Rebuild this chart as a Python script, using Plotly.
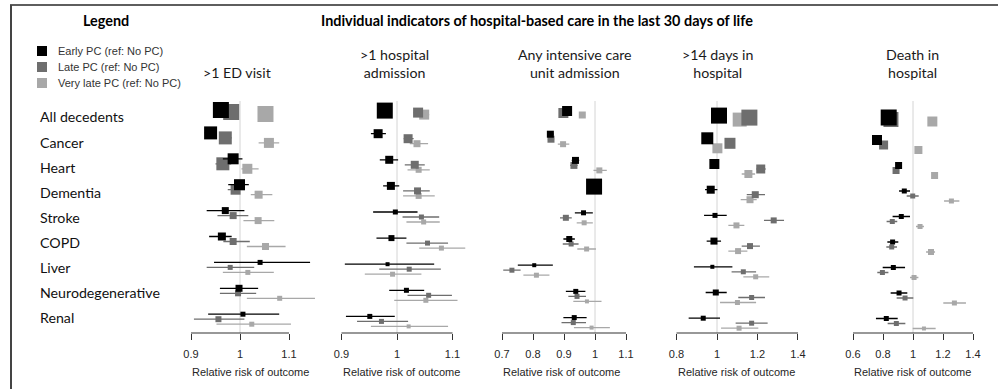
import plotly.graph_objects as go

# ---------------- data ----------------
categories = ["All decedents", "Cancer", "Heart", "Dementia", "Stroke", "COPD",
              "Liver", "Neurodegenerative", "Renal"]
series_names = ["Early PC (ref: No PC)", "Late PC (ref: No PC)", "Very late PC (ref: No PC)"]
panel_titles = [">1 ED visit", ">1 hospital<br>admission", "Any intensive care<br>unit admission",
                ">14 days in<br>hospital", "Death in<br>hospital"]
tick_values = [[0.9, 1, 1.1], [0.9, 1, 1.1], [0.7, 0.8, 0.9, 1, 1.1],
               [0.8, 1, 1.2, 1.4], [0.6, 0.8, 1, 1.2, 1.4]]
tick_labels = [["0.9", "1", "1.1"], ["0.9", "1", "1.1"], ["0.7", "0.8", "0.9", "1", "1.1"],
               ["0.8", "1", "1.2", "1.4"], ["0.6", "0.8", "1", "1.2", "1.4"]]

# >1 ED visit
ed_early_rr = [0.961, 0.940, 0.986, 0.999, 0.970, 0.963, 1.041, 0.998, 1.006]
ed_early_lo = [0.952, 0.928, 0.965, 0.976, 0.932, 0.937, 0.947, 0.959, 0.935]
ed_early_hi = [0.970, 0.953, 1.005, 1.018, 1.009, 0.983, 1.143, 1.037, 1.080]
ed_early_w = [16, 13, 11, 11, 7, 8, 5, 7, 5]
ed_late_rr = [0.982, 0.970, 0.965, 0.991, 0.986, 0.986, 0.980, 0.996, 0.956]
ed_late_lo = [0.975, 0.958, 0.950, 0.975, 0.954, 0.966, 0.932, 0.959, 0.906]
ed_late_hi = [0.990, 0.983, 0.982, 1.010, 1.017, 1.020, 1.029, 1.033, 1.009]
ed_late_w = [16, 13, 13, 10, 7, 7, 5, 6, 6]
ed_vlate_rr = [1.052, 1.059, 1.015, 1.038, 1.037, 1.052, 1.016, 1.081, 1.024]
ed_vlate_lo = [1.042, 1.038, 1.003, 1.022, 1.007, 1.014, 0.965, 1.014, 0.952]
ed_vlate_hi = [1.063, 1.080, 1.038, 1.066, 1.070, 1.093, 1.069, 1.153, 1.104]
ed_vlate_w = [16, 10, 10, 8, 7, 7, 5, 5, 5]

# >1 hospital admission
adm_early_rr = [0.978, 0.966, 0.986, 0.989, 0.997, 0.990, 0.983, 1.017, 0.951]
adm_early_lo = [0.970, 0.953, 0.969, 0.975, 0.957, 0.963, 0.906, 0.986, 0.908]
adm_early_hi = [0.987, 0.980, 1.002, 1.004, 1.037, 1.017, 1.067, 1.049, 0.996]
adm_early_w = [16, 9, 8, 8, 5, 6, 4, 5, 5]
adm_late_rr = [1.038, 1.020, 1.032, 1.037, 1.044, 1.055, 1.022, 1.057, 0.972]
adm_late_lo = [1.030, 1.012, 1.014, 1.011, 1.010, 1.017, 0.968, 1.019, 0.928]
adm_late_hi = [1.046, 1.030, 1.050, 1.059, 1.076, 1.092, 1.079, 1.099, 1.020]
adm_late_w = [10, 9, 8, 7, 5, 5, 5, 5, 5]
adm_vlate_rr = [1.049, 1.036, 1.039, 1.039, 1.048, 1.080, 0.992, 1.052, 1.021]
adm_vlate_lo = [1.040, 1.023, 1.019, 1.011, 1.017, 1.040, 0.942, 0.995, 0.953]
adm_vlate_hi = [1.058, 1.056, 1.059, 1.068, 1.077, 1.123, 1.044, 1.109, 1.092]
adm_vlate_w = [10, 7, 6, 6, 5, 5, 5, 5, 4]

# Any intensive care unit admission
icu_early_rr = [0.910, 0.856, 0.937, 0.997, 0.963, 0.917, 0.804, 0.938, 0.933]
icu_early_lo = [0.900, 0.846, 0.925, 0.990, 0.935, 0.898, 0.751, 0.906, 0.898]
icu_early_hi = [0.920, 0.866, 0.949, 1.004, 0.993, 0.935, 0.864, 0.969, 0.973]
icu_early_w = [10, 7, 7, 16, 5, 6, 4, 5, 5]
icu_late_rr = [0.898, 0.858, 0.932, None, 0.906, 0.923, 0.732, 0.942, 0.930]
icu_late_lo = [0.888, 0.848, 0.920, None, 0.887, 0.896, 0.704, 0.914, 0.892]
icu_late_hi = [0.908, 0.868, 0.944, None, 0.925, 0.947, 0.760, 0.971, 0.971]
icu_late_w = [10, 7, 7, None, 6, 5, 5, 5, 5]
icu_vlate_rr = [0.959, 0.897, 1.014, None, 0.965, 0.973, 0.811, 0.974, 0.989]
icu_vlate_lo = [0.950, 0.880, 0.995, None, 0.941, 0.943, 0.769, 0.930, 0.932]
icu_vlate_hi = [0.968, 0.917, 1.038, None, 0.993, 1.003, 0.853, 1.021, 1.048]
icu_vlate_w = [7, 6, 6, None, 5, 5, 5, 4, 4]

# >14 days in hospital
los_early_rr = [1.010, 0.952, 0.987, 0.969, 0.990, 0.985, 0.977, 0.994, 0.932]
los_early_lo = [0.995, 0.935, 0.970, 0.941, 0.936, 0.949, 0.886, 0.944, 0.860]
los_early_hi = [1.025, 0.970, 1.004, 1.002, 1.048, 1.020, 1.076, 1.048, 1.015]
los_early_w = [16, 12, 10, 8, 5, 7, 4, 6, 5]
los_late_rr = [1.160, 1.064, 1.216, 1.189, 1.280, 1.163, 1.130, 1.171, 1.171]
los_late_lo = [1.145, 1.045, 1.195, 1.147, 1.232, 1.122, 1.072, 1.105, 1.092]
los_late_hi = [1.175, 1.083, 1.240, 1.237, 1.331, 1.212, 1.193, 1.237, 1.250]
los_late_w = [16, 11, 9, 7, 6, 6, 5, 5, 5]
los_vlate_rr = [1.112, 1.002, 1.155, 1.163, 1.096, 1.104, 1.191, 1.101, 1.109]
los_vlate_lo = [1.095, 0.985, 1.122, 1.117, 1.056, 1.056, 1.130, 1.015, 1.020]
los_vlate_hi = [1.130, 1.020, 1.188, 1.196, 1.135, 1.150, 1.258, 1.193, 1.204]
los_vlate_w = [14, 10, 8, 7, 6, 6, 5, 5, 5]

# Death in hospital
dih_early_rr = [0.838, 0.760, 0.904, 0.942, 0.922, 0.864, 0.869, 0.907, 0.822]
dih_early_lo = [0.825, 0.745, 0.888, 0.907, 0.864, 0.829, 0.798, 0.851, 0.753]
dih_early_hi = [0.851, 0.775, 0.920, 0.980, 0.980, 0.902, 0.947, 0.962, 0.898]
dih_early_w = [16, 10, 7, 5, 5, 5, 5, 5, 5]
dih_late_rr = [0.853, 0.804, 0.887, 0.998, 0.862, 0.858, 0.796, 0.947, 0.889]
dih_late_lo = [0.840, 0.790, 0.872, 0.958, 0.824, 0.822, 0.762, 0.891, 0.831]
dih_late_hi = [0.866, 0.818, 0.902, 1.038, 0.895, 0.893, 0.836, 1.002, 0.949]
dih_late_w = [15, 9, 7, 5, 5, 5, 5, 5, 5]
dih_vlate_rr = [1.129, 1.036, 1.144, 1.256, 1.047, 1.120, 1.007, 1.276, 1.073]
dih_vlate_lo = [1.115, 1.022, 1.128, 1.207, 1.020, 1.087, 0.980, 1.202, 0.998]
dih_vlate_hi = [1.143, 1.050, 1.160, 1.309, 1.073, 1.147, 1.036, 1.353, 1.151]
dih_vlate_w = [10, 8, 7, 5, 5, 6, 5, 5, 4]

panels_data = [
    [(ed_early_rr, ed_early_lo, ed_early_hi, ed_early_w),
     (ed_late_rr, ed_late_lo, ed_late_hi, ed_late_w),
     (ed_vlate_rr, ed_vlate_lo, ed_vlate_hi, ed_vlate_w)],
    [(adm_early_rr, adm_early_lo, adm_early_hi, adm_early_w),
     (adm_late_rr, adm_late_lo, adm_late_hi, adm_late_w),
     (adm_vlate_rr, adm_vlate_lo, adm_vlate_hi, adm_vlate_w)],
    [(icu_early_rr, icu_early_lo, icu_early_hi, icu_early_w),
     (icu_late_rr, icu_late_lo, icu_late_hi, icu_late_w),
     (icu_vlate_rr, icu_vlate_lo, icu_vlate_hi, icu_vlate_w)],
    [(los_early_rr, los_early_lo, los_early_hi, los_early_w),
     (los_late_rr, los_late_lo, los_late_hi, los_late_w),
     (los_vlate_rr, los_vlate_lo, los_vlate_hi, los_vlate_w)],
    [(dih_early_rr, dih_early_lo, dih_early_hi, dih_early_w),
     (dih_late_rr, dih_late_lo, dih_late_hi, dih_late_w),
     (dih_vlate_rr, dih_vlate_lo, dih_vlate_hi, dih_vlate_w)],
]

# ---------------- layout / style ----------------
W, H = 998, 389
COLORS = ["#000000", "#6e6e6e", "#a8a8a8"]
HUM = "Lato, 'Open Sans', sans-serif"
ARIAL = "'Liberation Sans', Arial, sans-serif"

# x-axis: pixel of value 1, pixels per unit, shown range
AX_ONE = [240, 397, 595, 717, 913]
AX_K = [490, 555, 310, 202.5, 150]
AX_RANGE = [(0.85, 1.17), (0.85, 1.15), (0.65, 1.12), (0.75, 1.45), (0.55, 1.45)]
# y: pixel of first row center and row spacing per panel
ROW_TOP = [112, 112.6, 113, 117.6, 119.5]
ROW_SP = [25.9, 26.1, 26.2, 25.7, 25.5]
PLOT_TOP, PLOT_BOT = 100, 333
SUB_OFF = [-5, 0, 5]
SUB_OFF_ROW0 = [-2, 0, 2]
TITLE_CX = [237, 394, 575, 717, 912]


def py(p):
    return 1 - p / H


def px(p):
    return p / W


fig = go.Figure()
layout = dict(
    width=W, height=H, margin=dict(l=0, r=0, t=0, b=0),
    paper_bgcolor="white", plot_bgcolor="rgba(0,0,0,0)", showlegend=False,
)
shapes = []
annotations = []

for i in range(5):
    n = "" if i == 0 else str(i + 1)
    r0, r1 = AX_RANGE[i]
    d0 = (AX_ONE[i] + (r0 - 1) * AX_K[i]) / W
    d1 = (AX_ONE[i] + (r1 - 1) * AX_K[i]) / W
    layout["xaxis" + n] = dict(
        domain=[d0, d1], range=[r0, r1], anchor="y" + n,
        tickmode="array", tickvals=tick_values[i], ticktext=tick_labels[i],
        ticks="outside", ticklen=6, tickwidth=1, tickcolor="#333333",
        showline=False, showgrid=False, zeroline=False,
        tickfont=dict(family=ARIAL, size=11, color="#262626"),
        ticklabelstandoff=5,
    )
    top, sp = ROW_TOP[i], ROW_SP[i]
    layout["yaxis" + n] = dict(
        domain=[py(PLOT_BOT), py(PLOT_TOP)],
        range=[(PLOT_BOT - top) / sp, (PLOT_TOP - top) / sp],
        anchor="x" + n, visible=False, showgrid=False, zeroline=False,
    )
    # reference line at RR = 1
    shapes.append(dict(type="line", xref="x" + n, yref="paper", x0=1, x1=1,
                       y0=py(PLOT_BOT), y1=py(101), layer="below",
                       line=dict(color="#d4d4d4", width=1)))
    # axis line spanning tick range
    shapes.append(dict(type="line", xref="x" + n, yref="paper",
                       x0=tick_values[i][0], x1=tick_values[i][-1],
                       y0=py(PLOT_BOT), y1=py(PLOT_BOT),
                       line=dict(color="#333333", width=1.2)))
    # series: draw very late first so early is on top
    for s in [2, 1, 0]:
        rr, lo, hi, w = panels_data[i][s]
        xs, ys, ep, em, sz = [], [], [], [], []
        for r in range(len(categories)):
            if rr[r] is None:
                continue
            off = SUB_OFF_ROW0[s] if r == 0 else SUB_OFF[s]
            xs.append(rr[r])
            ys.append(r + off / sp)
            ep.append(hi[r] - rr[r])
            em.append(rr[r] - lo[r])
            sz.append(w[r])
        fig.add_trace(go.Scatter(
            x=xs, y=ys, xaxis="x" + n, yaxis="y" + n, mode="markers",
            name=series_names[s], cliponaxis=False,
            marker=dict(symbol="square", size=sz, color=COLORS[s], opacity=1,
                        line=dict(width=0)),
            error_x=dict(type="data", symmetric=False, array=ep, arrayminus=em,
                         color=COLORS[s], thickness=1.3, width=0),
            hoverinfo="x+name",
        ))
    # panel title
    annotations.append(dict(text=panel_titles[i], xref="paper", yref="paper",
                            x=px(TITLE_CX[i]), y=py(83), xanchor="center", yanchor="bottom",
                            showarrow=False, align="center",
                            font=dict(family=HUM, size=14.2, color="#1a1a1a")))
    # axis title (left aligned at axis start)
    annotations.append(dict(text="Relative risk of outcome", xref="x" + n, yref="paper",
                            x=tick_values[i][0], y=py(372), xanchor="left", yanchor="middle",
                            xshift=-1, showarrow=False,
                            font=dict(family=ARIAL, size=11, color="#262626")))

# row labels
for r, c in enumerate(categories):
    annotations.append(dict(text=c, xref="paper", yref="paper", x=px(38), y=py(117 + 25.1 * r),
                            xanchor="left", yanchor="middle", showarrow=False,
                            font=dict(family=HUM, size=14.2, color="#111111")))

# main title and legend
annotations.append(dict(text="<b>Individual indicators of hospital-based care in the last 30 days of life</b>",
                        xref="paper", yref="paper", x=px(537), y=py(21), xanchor="center",
                        yanchor="middle", showarrow=False,
                        font=dict(family=HUM, size=14.4, color="#000000")))
annotations.append(dict(text="<b>Legend</b>", xref="paper", yref="paper", x=px(106), y=py(21),
                        xanchor="center", yanchor="middle", showarrow=False,
                        font=dict(family=HUM, size=14.4, color="#000000")))
LEG_Y = [51, 67, 83]
for s in range(3):
    shapes.append(dict(type="rect", xref="paper", yref="paper",
                       x0=px(37), x1=px(47), y0=py(LEG_Y[s] + 5), y1=py(LEG_Y[s] - 5),
                       fillcolor=COLORS[s], line=dict(width=0)))
    annotations.append(dict(text=series_names[s], xref="paper", yref="paper",
                            x=px(56), y=py(LEG_Y[s]), xanchor="left", yanchor="middle",
                            showarrow=False, font=dict(family=ARIAL, size=11, color="#333333")))

# frame
shapes.append(dict(type="line", xref="paper", yref="paper", x0=px(10), x1=1,
                   y0=py(5), y1=py(5), line=dict(color="#5e5e5e", width=2)))
shapes.append(dict(type="line", xref="paper", yref="paper", x0=px(11), x1=px(11),
                   y0=py(5), y1=0, line=dict(color="#444444", width=2)))

layout["shapes"] = shapes
layout["annotations"] = annotations
fig.update_layout(**layout)
fig.write_html("out.html", config={"displayModeBar": False},
               post_script="document.body.style.margin='0';document.body.style.overflow='hidden';")
